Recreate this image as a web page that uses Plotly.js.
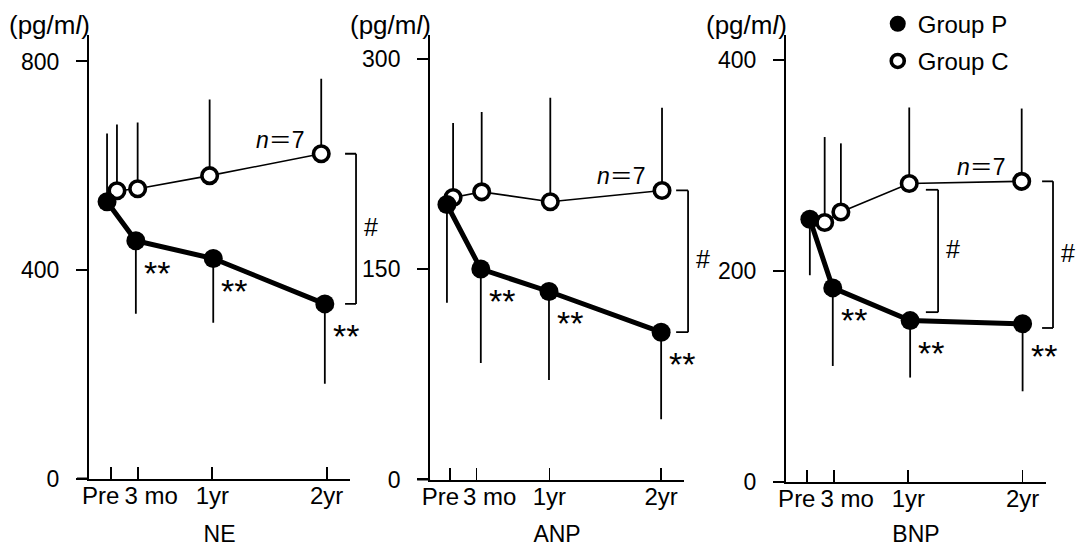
<!DOCTYPE html>
<html><head><meta charset="utf-8">
<script src="https://cdn.plot.ly/plotly-3.0.1.min.js"></script>
<style>html,body{margin:0;padding:0;background:#fff}#chart{width:1077px;height:547px}</style>
</head><body><div id="chart"></div>
<script>
// ---- time axis (tick positions as drawn, in months) ----
const timeTickPos = [0, 3, 11.3, 24];
const timeTickLabels = ['Pre', '3 mo', '1yr', '2yr'];
const timeLabelPos = [-1.1, 4.5, 11.3, 24];

// ---- NE (pg/ml) ----
const neXP = [-0.4, 2.8, 11.4, 23.8];
const neXC = [0.7, 3.0, 11.0, 23.4];
const neP = [531, 456, 422, 335];
const nePup = [131, 0, 0, 0];
const nePdown = [0, 140, 123, 153];
const neC = [552, 556, 581, 623];
const neCup = [127, 127, 146, 144];
const neTicks = [0, 400, 800];

// ---- ANP (pg/ml) ----
const anpXP = [-0.35, 3.5, 11.25, 24.0];
const anpXC = [0.35, 3.6, 11.4, 24.1];
const anpP = [196, 150, 134, 105];
const anpPup = [0, 0, 0, 0];
const anpPdown = [70, 67, 63, 62];
const anpC = [201, 205, 198, 206];
const anpCup = [53, 57, 74, 59];
const anpTicks = [0, 150, 300];

// ---- BNP (pg/ml) ----
const bnpXP = [0.35, 2.9, 11.5, 24.0];
const bnpXC = [2.0, 3.8, 11.4, 23.9];
const bnpP = [249, 184, 153, 150];
const bnpPup = [0, 0, 0, 0];
const bnpPdown = [53, 74, 54, 64];
const bnpC = [246, 256, 283, 285];
const bnpCup = [81, 65, 72, 69];
const bnpTicks = [0, 200, 400];

const panelNames = ['NE', 'ANP', 'BNP'];
const unitLabel = '(pg/m<i>l</i>)';
const sigLabel = '**';
const diffLabel = '#';
const nLabel = '<i>n</i>＝7';
const groupNames = ['Group P', 'Group C'];

// ---- layout geometry (styling) ----
const FONT = 'Liberation Sans, Arial, Noto Sans CJK JP, sans-serif';
const xDomains = [[0.0826, 0.325], [0.3993, 0.6351], [0.7298, 0.9712]];
const yDomains = [[0.1252, 0.936], [0.1234, 0.936], [0.1188, 0.936]];
const yRanges = [[0, 850.8], [0, 316.8], [0, 423.7]];
const xRanges = [[-2.41, 26.6], [-2.27, 26.6], [-2.30, 26.6]];
const axisStubs = [-0.046, -0.051, -0.05];

const panels = [
  {xP: neXP, xC: neXC, P: neP, Pu: nePup, Pd: nePdown, C: neC, Cu: neCup, ticks: neTicks},
  {xP: anpXP, xC: anpXC, P: anpP, Pu: anpPup, Pd: anpPdown, C: anpC, Cu: anpCup, ticks: anpTicks},
  {xP: bnpXP, xC: bnpXC, P: bnpP, Pu: bnpPup, Pd: bnpPdown, C: bnpC, Cu: bnpCup, ticks: bnpTicks}
];

const traces = [];
const layout = {
  width: 1077, height: 547,
  margin: {l: 0, r: 0, t: 0, b: 0},
  paper_bgcolor: '#fff', plot_bgcolor: 'rgba(0,0,0,0)',
  font: {family: FONT, size: 22, color: '#000'},
  showlegend: true,
  legend: {x: 0.815, y: 0.997, xanchor: 'left', yanchor: 'top', bgcolor: 'rgba(0,0,0,0)',
           font: {family: FONT, size: 24, color: '#000'}, tracegroupgap: 3, itemclick: false},
  annotations: [], shapes: []
};

panels.forEach((p, i) => {
  const n = i === 0 ? '' : String(i + 1);
  const xa = 'x' + n, ya = 'y' + n;
  const lx = 'x' + (i + 4);
  // Group C
  traces.push({
    type: 'scatter', mode: 'lines+markers', x: p.xC, y: p.C, xaxis: xa, yaxis: ya,
    name: groupNames[1], showlegend: false, cliponaxis: false,
    line: {color: '#000', width: 1.6},
    marker: {symbol: 'circle', size: 15.5, color: '#fff', line: {color: '#000', width: 3.6}},
    error_y: {type: 'data', symmetric: false, array: p.Cu, arrayminus: p.C.map(() => 0),
              width: 0, thickness: 1.8, color: '#000'}
  });
  // Group P
  traces.push({
    type: 'scatter', mode: 'lines+markers', x: p.xP, y: p.P, xaxis: xa, yaxis: ya,
    name: groupNames[0], showlegend: false, cliponaxis: false,
    line: {color: '#000', width: 5},
    marker: {symbol: 'circle', size: 19, color: '#000'},
    error_y: {type: 'data', symmetric: false, array: p.Pu, arrayminus: p.Pd,
              width: 0, thickness: 1.8, color: '#000'}
  });
  // empty trace so the label axis is drawn
  traces.push({type: 'scatter', mode: 'markers', x: [null], y: [null], xaxis: lx, yaxis: ya,
    showlegend: false, hoverinfo: 'skip'});

  layout['xaxis' + n] = {
    domain: xDomains[i], range: xRanges[i], anchor: ya,
    showline: true, linewidth: 2, linecolor: '#000',
    ticks: 'inside', ticklen: 12, tickwidth: 1.8, tickcolor: '#000',
    tickvals: timeTickPos, showticklabels: false,
    showgrid: false, zeroline: false, fixedrange: true
  };
  layout['xaxis' + (i + 4)] = {
    overlaying: xa, range: xRanges[i], anchor: ya, side: 'bottom',
    showline: false, ticks: '', showgrid: false, zeroline: false,
    tickvals: timeLabelPos, ticktext: timeTickLabels,
    tickfont: {family: FONT, size: 24, color: '#000'},
    title: {text: panelNames[i], font: {family: FONT, size: 23, color: '#000'}, standoff: 18},
    fixedrange: true
  };
  layout['yaxis' + n] = {
    domain: yDomains[i], range: yRanges[i], anchor: xa,
    showline: true, linewidth: 2, linecolor: '#000',
    ticks: 'outside', ticklen: 11, tickwidth: 2, tickcolor: '#000',
    tickvals: p.ticks, ticklabelstandoff: 12,
    tickfont: {family: FONT, size: 23, color: '#000'},
    showgrid: false, zeroline: false, fixedrange: true
  };
  // x axis line continues a little to the left of the y axis
  layout.shapes.push({type: 'line', xref: xa + ' domain', yref: ya + ' domain',
    x0: axisStubs[i], x1: 0, y0: 0, y1: 0, line: {color: '#000', width: 2}});

  // unit label
  layout.annotations.push({xref: xa + ' domain', yref: 'paper', x: 0, y: 0.954,
    xanchor: 'right', yanchor: 'middle', xshift: 3, text: unitLabel, showarrow: false,
    font: {family: FONT, size: 26, color: '#000'}});
  // n = 7
  layout.annotations.push({xref: xa, yref: ya, x: p.xC[3], y: p.C[3], xanchor: 'right', yanchor: 'middle',
    xshift: -14, yshift: 14, text: nLabel, showarrow: false, font: {family: FONT, size: 23, color: '#000'}});
  // significance asterisks
  for (let k = 1; k < 4; k++) {
    layout.annotations.push({xref: xa, yref: ya, x: p.xP[k], y: p.P[k], xanchor: 'center', yanchor: 'middle',
      xshift: 21, yshift: -32, text: sigLabel, showarrow: false, font: {family: FONT, size: 34, color: '#000'}});
  }
});

// legend entries
traces.push({type: 'scatter', mode: 'markers', x: [null], y: [null], xaxis: 'x3', yaxis: 'y3',
  name: groupNames[0], legendgroup: 'P', marker: {symbol: 'circle', size: 19, color: '#000'}});
traces.push({type: 'scatter', mode: 'markers', x: [null], y: [null], xaxis: 'x3', yaxis: 'y3',
  name: groupNames[1], legendgroup: 'C', marker: {symbol: 'circle', size: 13, color: '#fff', line: {color: '#000', width: 3.6}}});

// brackets with '#'
const brackets = [
  {xa: 'x', ya: 'y', top: neC[3], bot: neP[3], xv: 1.023, xs: 0.981, xh: 1.08},
  {xa: 'x2', ya: 'y2', top: anpC[3], bot: anpP[3], xv: 1.016, xs: 0.969, xh: 1.075},
  {xa: 'x3', ya: 'y3', top: bnpC[2] - 6, bot: bnpP[2] + 8, xv: 0.585, xs: 0.538, xh: 0.642},
  {xa: 'x3', ya: 'y3', top: bnpC[3], bot: bnpP[3] - 4, xv: 1.027, xs: 0.985, xh: 1.085}
];
brackets.forEach(b => {
  const xr = b.xa + ' domain';
  const ln = {color: '#000', width: 1.8};
  layout.shapes.push({type: 'line', xref: xr, yref: b.ya, x0: b.xv, x1: b.xv, y0: b.top, y1: b.bot, line: ln});
  layout.shapes.push({type: 'line', xref: xr, yref: b.ya, x0: b.xs, x1: b.xv, y0: b.top, y1: b.top, line: ln});
  layout.shapes.push({type: 'line', xref: xr, yref: b.ya, x0: b.xs, x1: b.xv, y0: b.bot, y1: b.bot, line: ln});
  layout.annotations.push({xref: xr, yref: b.ya, x: b.xh, y: (b.top + b.bot) / 2, xanchor: 'center', yanchor: 'middle',
    yshift: 2, text: diffLabel, showarrow: false, font: {family: FONT, size: 25, color: '#000'}});
});

Plotly.newPlot('chart', traces, layout, {displayModeBar: false, staticPlot: true});
</script></body></html>
